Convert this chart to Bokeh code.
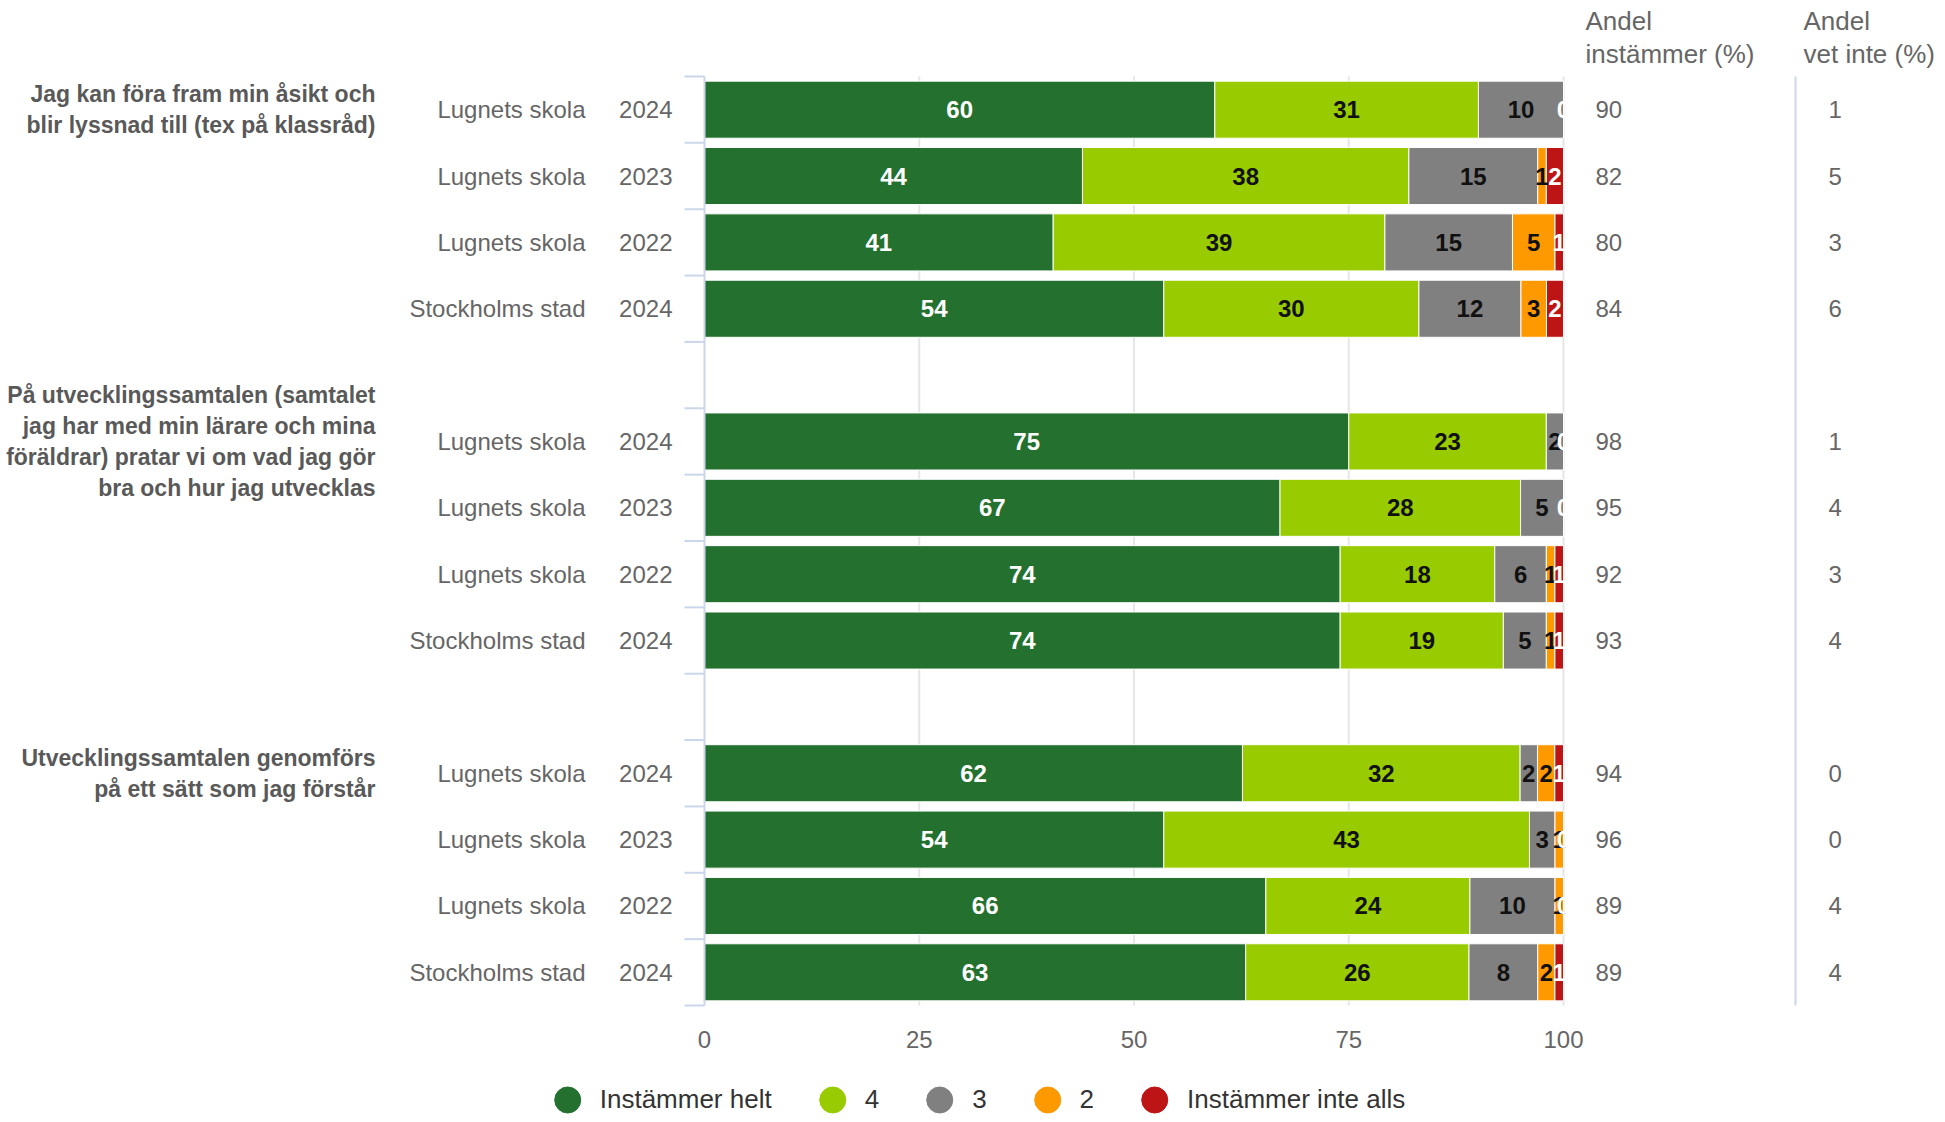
import numpy as np
from bokeh.plotting import figure
from bokeh.models import ColumnDataSource, Range1d, Legend, LegendItem
from bokeh.core.properties import value
from bokeh.embed import file_html
from bokeh.resources import INLINE

# ---------------- data ----------------
questions = [
    ["Jag kan föra fram min åsikt och", "blir lyssnad till (tex på klassråd)"],
    ["På utvecklingssamtalen (samtalet", "jag har med min lärare och mina",
     "föräldrar) pratar vi om vad jag gör", "bra och hur jag utvecklas"],
    ["Utvecklingssamtalen genomförs", "på ett sätt som jag förstår"],
]
units = ["Lugnets skola", "Lugnets skola", "Lugnets skola", "Stockholms stad"]
years = ["2024", "2023", "2022", "2024"]

series_names = ["Instämmer helt", "4", "3", "2", "Instämmer inte alls"]
series_colors = ["#24712f", "#99cc00", "#808080", "#ff9900", "#bd1515"]
label_colors = ["#ffffff", "#111111", "#111111", "#111111", "#ffffff"]

instammer_helt = [60, 44, 41, 54, 75, 67, 74, 74, 62, 54, 66, 63]
svar_4 = [31, 38, 39, 30, 23, 28, 18, 19, 32, 43, 24, 26]
svar_3 = [10, 15, 15, 12, 2, 5, 6, 5, 2, 3, 10, 8]
svar_2 = [0, 1, 5, 3, 0, 0, 1, 1, 2, 1, 1, 2]
instammer_inte_alls = [0, 2, 1, 2, 0, 0, 1, 1, 1, 0, 0, 1]

andel_instammer = [90, 82, 80, 84, 98, 95, 92, 93, 94, 96, 89, 89]
andel_vet_inte = [1, 5, 3, 6, 1, 4, 3, 4, 0, 0, 4, 4]

x_ticks = [0, 25, 50, 75, 100]
header_instammer = ["Andel", "instämmer (%)"]
header_vet_inte = ["Andel", "vet inte (%)"]

# ---------------- layout (pixels inside the figure) ----------------
W, H = 1940, 1120
X0_PX, X100_PX = 704, 1563
TOP_PX = 76
N_SLOTS = 14
SLOT_PX = 929 / N_SLOTS
ppu = (X100_PX - X0_PX) / 100.0


def xd(px):
    return (px - X0_PX) / ppu


def yd(py):
    return -0.5 + (py - TOP_PX) / SLOT_PX


FONT_NAME = "Liberation Sans"
FONT = value(FONT_NAME)
GREY = "#666666"
AXIS_BLUE = "#ccd6eb"

p = figure(width=W, height=H, x_range=Range1d(xd(0), xd(W)), y_range=Range1d(yd(H), yd(0)),
           output_backend="svg", toolbar_location=None, x_axis_type=None, y_axis_type=None,
           min_border=0, outline_line_color=None, background_fill_color="white",
           border_fill_color="white")
p.grid.visible = False

n_rows_per_group = len(units)
slots = []
for g in range(len(questions)):
    for r in range(n_rows_per_group):
        slots.append(g * (n_rows_per_group + 1) + r)
slots = np.array(slots, dtype=float)
y_lo = -0.5
y_hi = N_SLOTS - 0.5

# grid lines
grid_x = x_ticks[1:]
p.segment(x0=grid_x, y0=[y_lo] * len(grid_x), x1=grid_x, y1=[y_hi] * len(grid_x),
          line_color="#e6e6e6", line_width=2)

# bars (percent stacking)
series = np.array([instammer_helt, svar_4, svar_3, svar_2, instammer_inte_alls], dtype=float)
totals = series.sum(axis=0)
cum = np.vstack([np.zeros(len(totals)), np.cumsum(series, axis=0)]) / totals * 100

for k in range(len(series_names)):
    src = ColumnDataSource(dict(y=slots, left=cum[k], right=cum[k + 1]))
    p.hbar(y="y", left="left", right="right", height=0.86, source=src,
           fill_color=series_colors[k], line_color="white", line_width=1)

# axis line + category ticks
p.segment(x0=[0], y0=[y_lo], x1=[0], y1=[y_hi], line_color=AXIS_BLUE, line_width=2)
bounds = np.arange(N_SLOTS + 1) - 0.5
p.segment(x0=[xd(X0_PX - 20)] * len(bounds), y0=bounds, x1=[0] * len(bounds), y1=bounds,
          line_color=AXIS_BLUE, line_width=2)

# bar value labels
for k in range(len(series_names)):
    xs, ys, ts = [], [], []
    for i in range(len(slots)):
        v = series[k, i]
        if v == 0 and any(series[j, i] == 0 for j in range(k + 1, len(series_names))):
            continue
        xs.append((cum[k, i] + cum[k + 1, i]) / 2)
        ys.append(slots[i])
        ts.append(str(int(v)))
    p.text(x=xs, y=ys, text=ts, text_font=FONT, text_font_style="bold",
           text_font_size="24px", text_color=label_colors[k],
           text_align="center", text_baseline="middle")

# category labels (unit + year)
p.text(x=[xd(585)] * len(slots), y=slots, text=units * len(questions), text_font=FONT,
       text_font_size="24px", text_color=GREY, text_align="right", text_baseline="middle")
p.text(x=[xd(672)] * len(slots), y=slots, text=years * len(questions), text_font=FONT,
       text_font_size="24px", text_color=GREY, text_align="right", text_baseline="middle")

# question (group) labels
LINE = 31 / SLOT_PX
qx, qy, qt = [], [], []
for g, lines in enumerate(questions):
    first = g * (n_rows_per_group + 1)
    n = len(lines)
    for j, t in enumerate(lines):
        qx.append(xd(375))
        qy.append(first + (j - (n - 1) / 2) * LINE)
        qt.append(t)
p.text(x=qx, y=qy, text=qt, text_font=FONT, text_font_style="bold", text_font_size="23px",
       text_color="#595959", text_align="right", text_baseline="middle")

# x tick labels
p.text(x=x_ticks, y=[yd(1039)] * len(x_ticks), text=[str(t) for t in x_ticks], text_font=FONT,
       text_font_size="24px", text_color=GREY, text_align="center", text_baseline="middle")

# right-hand table
p.segment(x0=[xd(1795)], y0=[y_lo], x1=[xd(1795)], y1=[y_hi], line_color=AXIS_BLUE, line_width=2)
p.text(x=[xd(1595)] * len(slots), y=slots, text=[str(v) for v in andel_instammer], text_font=FONT,
       text_font_size="24px", text_color=GREY, text_align="left", text_baseline="middle")
p.text(x=[xd(1828)] * len(slots), y=slots, text=[str(v) for v in andel_vet_inte], text_font=FONT,
       text_font_size="24px", text_color=GREY, text_align="left", text_baseline="middle")
hy = [yd(20), yd(53)]
p.text(x=[xd(1585)] * 2, y=hy, text=header_instammer, text_font=FONT, text_font_size="26px",
       text_color=GREY, text_align="left", text_baseline="middle")
p.text(x=[xd(1803)] * 2, y=hy, text=header_vet_inte, text_font=FONT, text_font_size="26px",
       text_color=GREY, text_align="left", text_baseline="middle")

# legend (marker renderers carry no visible points)
items = []
for k, name in enumerate(series_names):
    r = p.scatter(x=[float("nan")], y=[float("nan")], marker="circle",
                  fill_color=series_colors[k], line_color=series_colors[k])
    items.append(LegendItem(label=name, renderers=[r]))
legend = Legend(items=items, orientation="horizontal", location="bottom_center",
                glyph_width=65, glyph_height=65, label_standoff=-4, label_width=10,
                spacing=28, padding=0, margin=-12, label_text_font=FONT_NAME,
                label_text_font_size="26px", label_text_color="#333333",
                background_fill_alpha=0, border_line_alpha=0)
p.add_layout(legend, "center")

open("out.html", "w").write(file_html(p, INLINE))
